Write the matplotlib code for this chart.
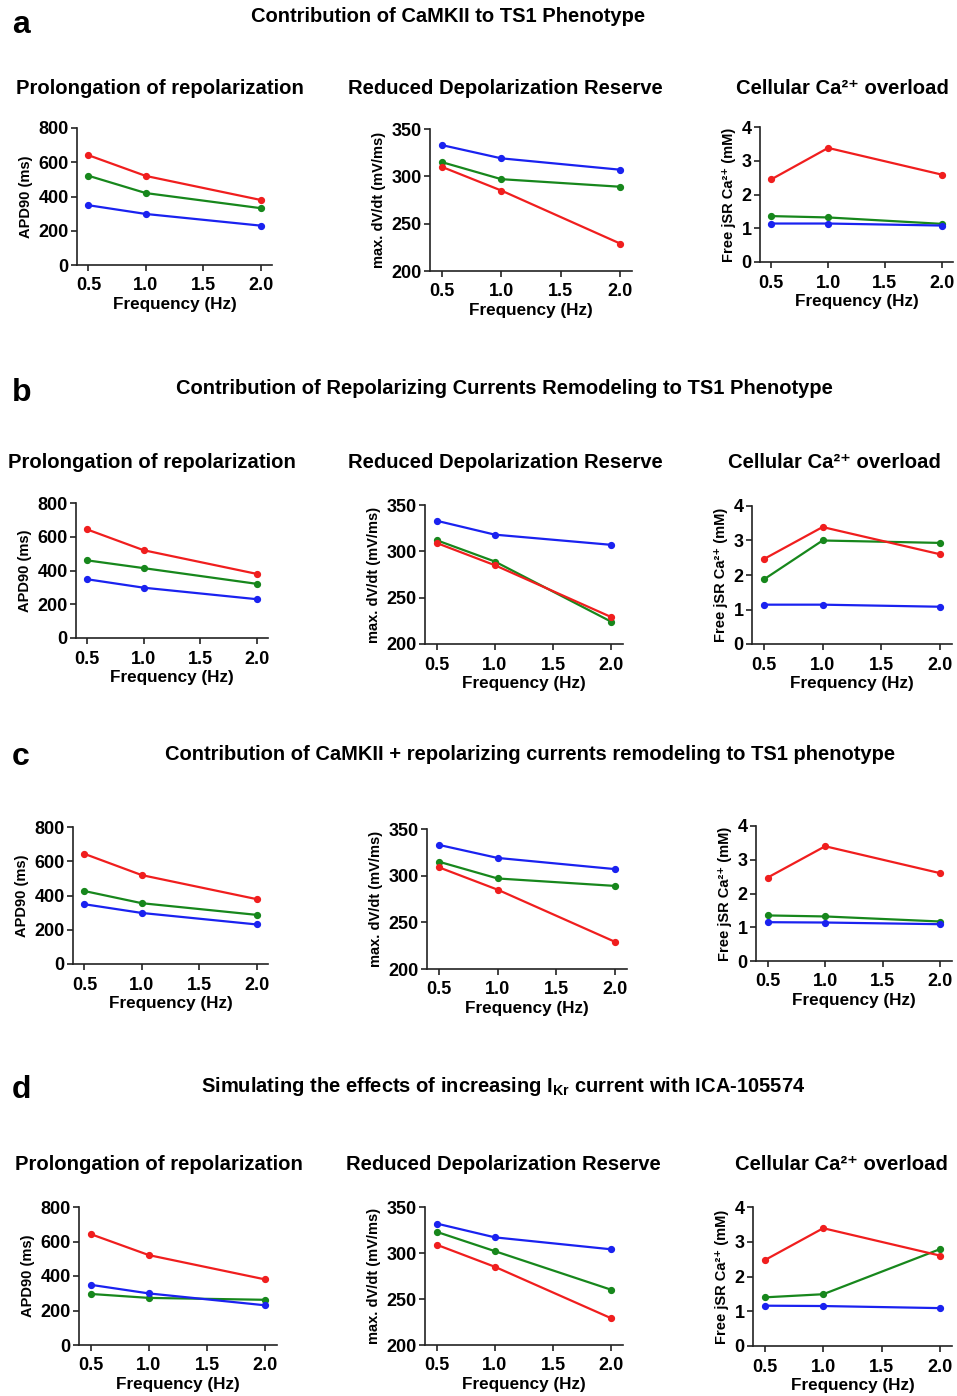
import matplotlib
matplotlib.use("Agg")
from matplotlib import pyplot as plt

plt.rcParams['font.family'] = ['Liberation Sans', 'DejaVu Sans']
plt.rcParams['font.weight'] = 'bold'
plt.rcParams['mathtext.fontset'] = 'custom'
plt.rcParams['mathtext.rm'] = 'Liberation Sans:bold'
plt.rcParams['mathtext.bf'] = 'Liberation Sans:bold'
plt.rcParams['mathtext.it'] = 'Liberation Sans:bold'

W, H = 957, 1396

freq = [0.5, 1.0, 2.0]

# panel a: CaMKII
a_apd_red = [641, 520, 380]
a_apd_green = [521, 420, 332]
a_apd_blue = [349, 298, 230]
a_dvdt_blue = [333, 319, 307]
a_dvdt_green = [315, 297, 289]
a_dvdt_red = [310, 285, 229]
a_ca_red = [2.45, 3.38, 2.59]
a_ca_green = [1.36, 1.32, 1.13]
a_ca_blue = [1.14, 1.14, 1.08]

# panel b: repolarizing currents
b_apd_red = [643, 520, 380]
b_apd_green = [460, 414, 321]
b_apd_blue = [348, 298, 230]
b_dvdt_blue = [333, 318, 307]
b_dvdt_green = [312, 289, 224]
b_dvdt_red = [309, 285, 229]
b_ca_red = [2.46, 3.39, 2.60]
b_ca_green = [1.87, 3.00, 2.93]
b_ca_blue = [1.14, 1.14, 1.08]

# panel c: CaMKII + repolarizing currents
c_apd_red = [643, 519, 379]
c_apd_green = [426, 355, 287]
c_apd_blue = [349, 298, 231]
c_dvdt_blue = [333, 319, 307]
c_dvdt_green = [315, 297, 289]
c_dvdt_red = [309, 285, 229]
c_ca_red = [2.47, 3.40, 2.60]
c_ca_green = [1.35, 1.32, 1.17]
c_ca_blue = [1.15, 1.14, 1.09]

# panel d: ICA-105574
d_apd_red = [643, 521, 380]
d_apd_green = [296, 273, 262]
d_apd_blue = [349, 299, 230]
d_dvdt_blue = [332, 317, 304]
d_dvdt_green = [323, 302, 260]
d_dvdt_red = [309, 285, 229]
d_ca_red = [2.47, 3.39, 2.60]
d_ca_green = [1.40, 1.49, 2.79]
d_ca_blue = [1.16, 1.15, 1.09]

RED = '#f01e1e'
GREEN = '#17871c'
BLUE = '#1a22f0'

fig = plt.figure(figsize=(W / 100, H / 100), dpi=100)


def px_axes(left, top, right, bottom):
    return fig.add_axes([left / W, 1 - bottom / H, (right - left) / W, (bottom - top) / H])


def style(ax, ylim, yticks, ylabel):
    ax.set_xlim(0.4, 2.1)
    ax.set_ylim(*ylim)
    ax.set_xticks([0.5, 1.0, 1.5, 2.0])
    ax.set_xticklabels(['0.5', '1.0', '1.5', '2.0'])
    ax.set_yticks(yticks)
    for s in ['top', 'right']:
        ax.spines[s].set_visible(False)
    for s in ['left', 'bottom']:
        ax.spines[s].set_linewidth(1.2)
        ax.spines[s].set_color('#222222')
    ax.tick_params(labelsize=13, width=1.2, length=4, color='#222222')
    ax.tick_params(axis='x', pad=5)
    ax.tick_params(axis='y', pad=2)
    ax.set_xlabel('Frequency (Hz)', fontsize=12.3, fontweight='bold', labelpad=2)
    ax.set_ylabel(ylabel, fontsize=10.5, fontweight='bold', labelpad=4)


def draw(ax, red, green, blue):
    for vals, col in [(green, GREEN), (blue, BLUE), (red, RED)]:
        ax.plot(freq, vals, color=col, lw=1.6, marker='o', ms=4.2, clip_on=False)


rows = [
    ((a_apd_red, a_apd_green, a_apd_blue), (a_dvdt_red, a_dvdt_green, a_dvdt_blue),
     (a_ca_red, a_ca_green, a_ca_blue)),
    ((b_apd_red, b_apd_green, b_apd_blue), (b_dvdt_red, b_dvdt_green, b_dvdt_blue),
     (b_ca_red, b_ca_green, b_ca_blue)),
    ((c_apd_red, c_apd_green, c_apd_blue), (c_dvdt_red, c_dvdt_green, c_dvdt_blue),
     (c_ca_red, c_ca_green, c_ca_blue)),
    ((d_apd_red, d_apd_green, d_apd_blue), (d_dvdt_red, d_dvdt_green, d_dvdt_blue),
     (d_ca_red, d_ca_green, d_ca_blue)),
]

# axes boxes in pixels: (left, top, right, bottom)
boxes = [
    [(77, 128, 272, 265), (430, 129, 632, 271), (760, 127, 953, 262)],
    [(76, 503, 268, 638), (425, 505, 623, 644), (752, 506, 952, 644)],
    [(73, 827, 268, 964), (427, 829, 627, 969), (756, 826, 952, 961)],
    [(79, 1207, 277, 1345), (425, 1207, 623, 1345), (753, 1207, 952, 1346)],
]

for row, brow in zip(rows, boxes):
    ax = px_axes(*brow[0])
    draw(ax, *row[0])
    style(ax, (0, 800), [0, 200, 400, 600, 800], 'APD90 (ms)')
    ax = px_axes(*brow[1])
    draw(ax, *row[1])
    style(ax, (200, 350), [200, 250, 300, 350], 'max. dV/dt (mV/ms)')
    ax = px_axes(*brow[2])
    draw(ax, *row[2])
    style(ax, (0, 4), [0, 1, 2, 3, 4], 'Free jSR Ca²⁺ (mM)')


def ftext(x, y, s, size, ha='center'):
    fig.text(x / W, 1 - y / H, s, fontsize=size, fontweight='bold', ha=ha, va='center')


letters = [('a', 25), ('b', 393), ('c', 757), ('d', 1090)]
for s, y in letters:
    ftext(12, y, s, 23, ha='left')

ftext(448, 17, 'Contribution of CaMKII to TS1 Phenotype', 14.5)
ftext(504, 388, 'Contribution of Repolarizing Currents Remodeling to TS1 Phenotype', 14.5)
ftext(530, 754, 'Contribution of CaMKII + repolarizing currents remodeling to TS1 phenotype', 14.5)
ftext(503, 1087, 'Simulating the effects of increasing I$_{Kr}$ current with ICA-105574', 14.5)

sub_titles = ['Prolongation of repolarization', 'Reduced Depolarization Reserve',
              'Cellular Ca²⁺ overload']
for y, xs in [(88, (160, 505, 842)), (462, (152, 505, 834)), (1164, (159, 503, 841))]:
    for x, s in zip(xs, sub_titles):
        ftext(x, y, s, 14.6)

fig.savefig('out.png', dpi=100)
